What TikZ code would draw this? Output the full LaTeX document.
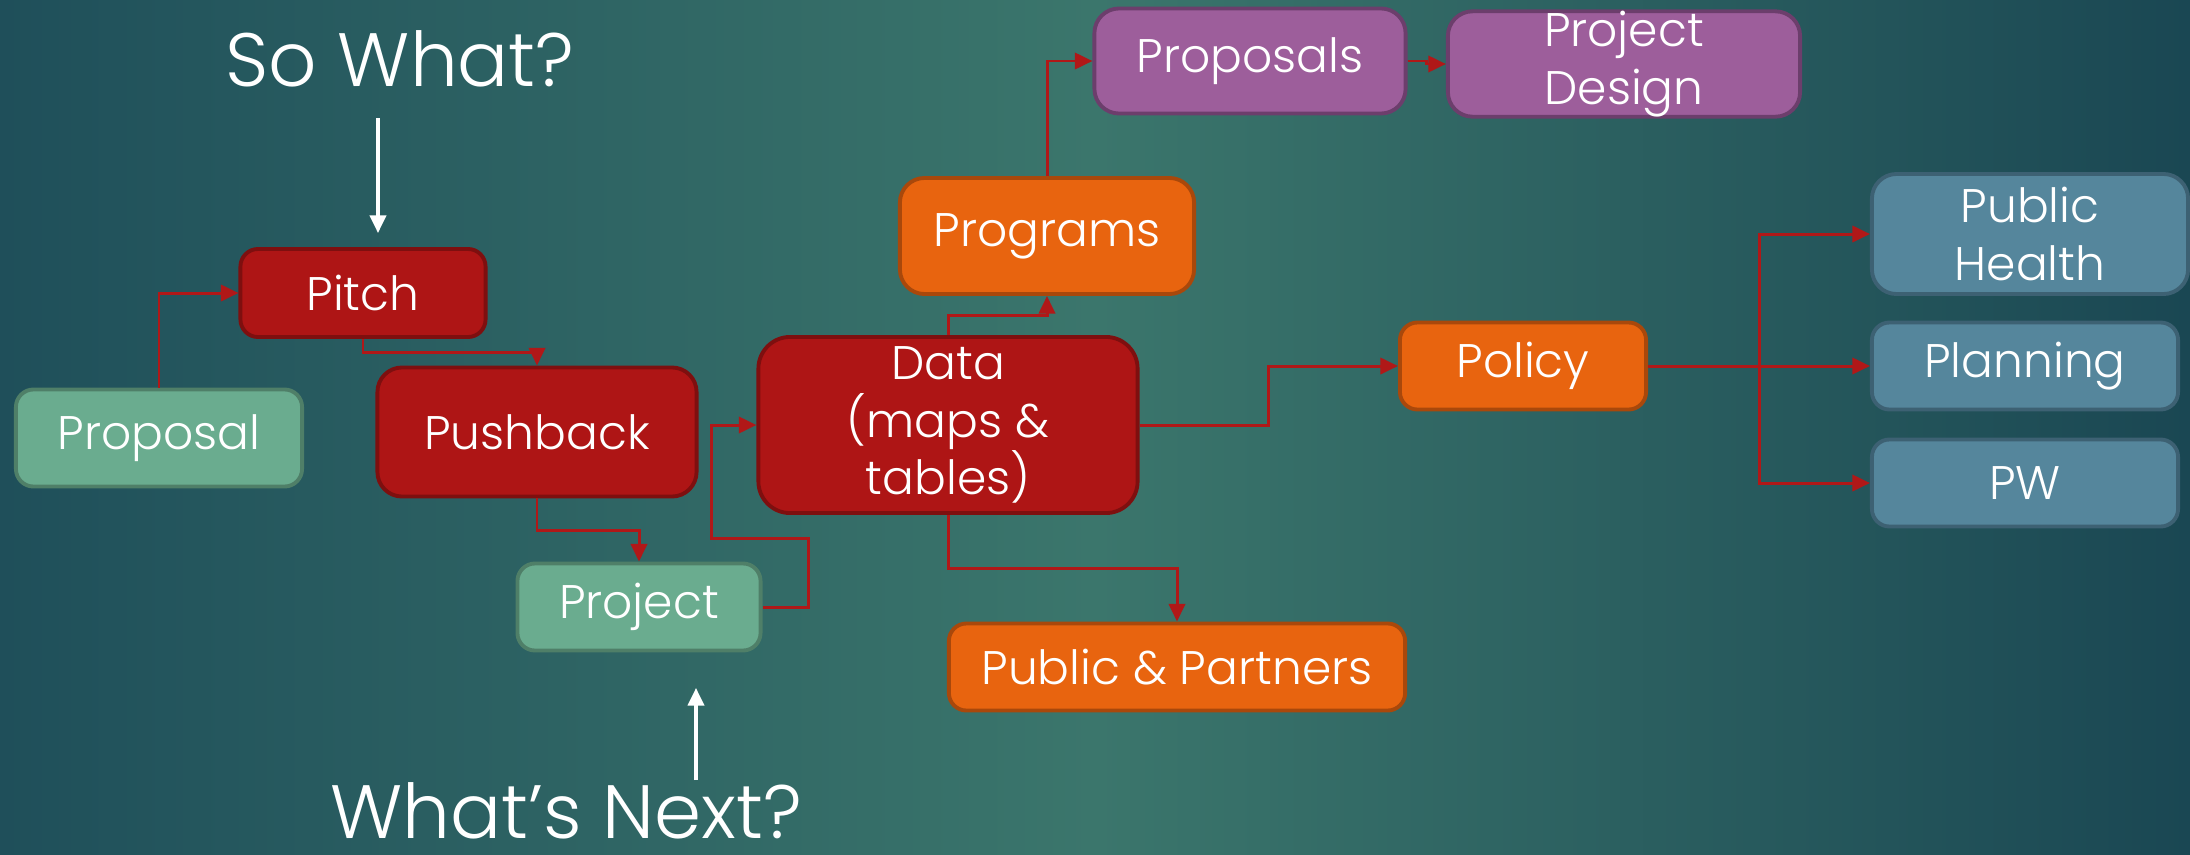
\documentclass[tikz,border=0pt]{standalone}
\usepackage{fontspec}
\setmainfont{Poppins}[UprightFont={* Light}]
\usetikzlibrary{calc}
\usetikzlibrary{arrows.meta}
\usepackage{xcolor}

\definecolor{bgleft}{HTML}{1F4F5A}
\definecolor{bgmid}{HTML}{3B766C}
\definecolor{bgright}{HTML}{1A4753}
\definecolor{boxred}{HTML}{AE1515}
\definecolor{boxredline}{HTML}{7E0F0F}
\definecolor{boxgreen}{HTML}{6AAC8F}
\definecolor{boxgreenline}{HTML}{4F7F68}
\definecolor{boxorange}{HTML}{E8640F}
\definecolor{boxorangeline}{HTML}{A9480B}
\definecolor{boxpurple}{HTML}{9D5E9B}
\definecolor{boxpurpleline}{HTML}{6C3E6C}
\definecolor{boxblue}{HTML}{55869C}
\definecolor{boxblueline}{HTML}{3D6173}
\definecolor{arrowred}{HTML}{B01818}

\begin{document}
\begin{tikzpicture}[x=0.01cm, y=-0.01cm]
        % ================= styles =================
        \tikzset{
            % box nodes
            box/.style={rectangle, rounded corners=5pt, line width=1.1pt, text=white, align=center, inner sep=0pt, font=\fontsize{13.4}{16.3}\selectfont},
            red_box/.style={box, fill=boxred, draw=boxredline},
            green_box/.style={box, fill=boxgreen, draw=boxgreenline},
            orange_box/.style={box, fill=boxorange, draw=boxorangeline},
            purple_box/.style={box, fill=boxpurple, draw=boxpurpleline},
            blue_box/.style={box, fill=boxblue, draw=boxblueline},
            % red elbow connectors
            flow/.style={line width=0.85pt, draw=arrowred, -{Triangle[length=5pt, width=4.6pt]}},
            % white pointers and questions
            pointer/.style={line width=0.9pt, draw=white, -{Triangle[length=5pt, width=4.6pt]}},
            question/.style={text=white, inner sep=0pt, font=\fontsize{21.5}{26}\selectfont}
        }

        % ================= background =================
        \useasboundingbox (0,0) rectangle (2190,854);
        \shade[left color=bgleft, right color=bgright, middle color=bgmid] (0,0) rectangle (2190,854);

        % ================= left part: proposal to project =================
        \node[green_box, minimum width=2.86cm, minimum height=0.97cm] (proposal) at (159,438) {Proposal};
        \node[red_box, minimum width=2.45cm, minimum height=0.88cm] (pitch) at (363,293) {Pitch};
        \node[red_box, minimum width=3.19cm, minimum height=1.29cm, rounded corners=7pt] (pushback) at (537,432) {Pushback};
        \node[green_box, minimum width=2.43cm, minimum height=0.87cm] (project) at (639,607) {Project};

        \node[question, anchor=base] (sowhat) at (400,86) {So What?};
        \node[question, anchor=base] (whatsnext) at (566,838) {What’s Next?};
        \coordinate (sw_from) at (378,118);
        \coordinate (sw_to) at (378,233);
        \coordinate (wn_from) at (696,780);
        \coordinate (wn_to) at (696,688);

        % ================= middle part: data =================
        \node[red_box, minimum width=3.79cm, minimum height=1.76cm, rounded corners=9pt] (data) at (948,425) {Data\\(maps \&\\tables)};
        \node[orange_box, minimum width=2.94cm, minimum height=1.16cm, rounded corners=7pt] (programs) at (1047,236) {Programs};
        \node[orange_box, minimum width=4.56cm, minimum height=0.87cm] (partners) at (1177,667) {Public \& Partners};
        \node[orange_box, minimum width=2.46cm, minimum height=0.87cm] (policy) at (1523,366) {Policy};

        % ================= top and right parts =================
        \node[purple_box, minimum width=3.11cm, minimum height=1.05cm, rounded corners=7pt] (proposals) at (1250,61) {Proposals};
        \node[purple_box, minimum width=3.52cm, minimum height=1.05cm, rounded corners=7pt] (design) at (1624,64) {Project\\Design};
        \node[blue_box, minimum width=3.16cm, minimum height=1.2cm, rounded corners=7pt] (health) at (2030,234) {Public\\Health};
        \node[blue_box, minimum width=3.06cm, minimum height=0.87cm] (planning) at (2025,366) {Planning};
        \node[blue_box, minimum width=3.06cm, minimum height=0.87cm] (pw) at (2025,483) {PW};

        % --- 1. connectors of the left part ---
        \draw[flow] (proposal.north) |- (pitch.west);
        \draw[flow] (pitch.south) |- ($(pitch.south)!.5!(pushback.north)$) -| (pushback.north);
        \draw[flow] (pushback.south) |- ($(pushback.south)!.5!(project.north)$) -| (project.north);
        % project loops round into the data box
        \coordinate (jog1) at (808,538);
        \coordinate (jog2) at (711,538);
        \draw[flow] (project.east) -| (jog1) -- (jog2) |- (data.west);

        % --- 2. connectors out of data ---
        \draw[flow] (data.north) |- ($(data.north)!.5!(programs.south)$) -| (programs.south);
        \draw[flow] (data.south) |- ($(data.south)!.5!(partners.north)$) -| (partners.north);
        \draw[flow] (data.east) -| ($(data.east)!.5!(policy.west)$) |- (policy.west);
        \draw[flow] (programs.north) |- (proposals.west);
        \draw[flow] (proposals.east) -| ($(proposals.east)!.5!(design.west)$) |- (design.west);

        % --- 3. policy branches ---
        \draw[flow] (policy.east) -| ($(policy.east)!.5!(health.west)$) |- (health.west);
        \draw[flow] (policy.east) -- (planning.west);
        \draw[flow] (policy.east) -| ($(policy.east)!.5!(pw.west)$) |- (pw.west);

        % --- 4. white pointers ---
        \draw[pointer] (sw_from) -- (sw_to);
        \draw[pointer] (wn_from) -- (wn_to);

    \end{tikzpicture}
\end{document}
